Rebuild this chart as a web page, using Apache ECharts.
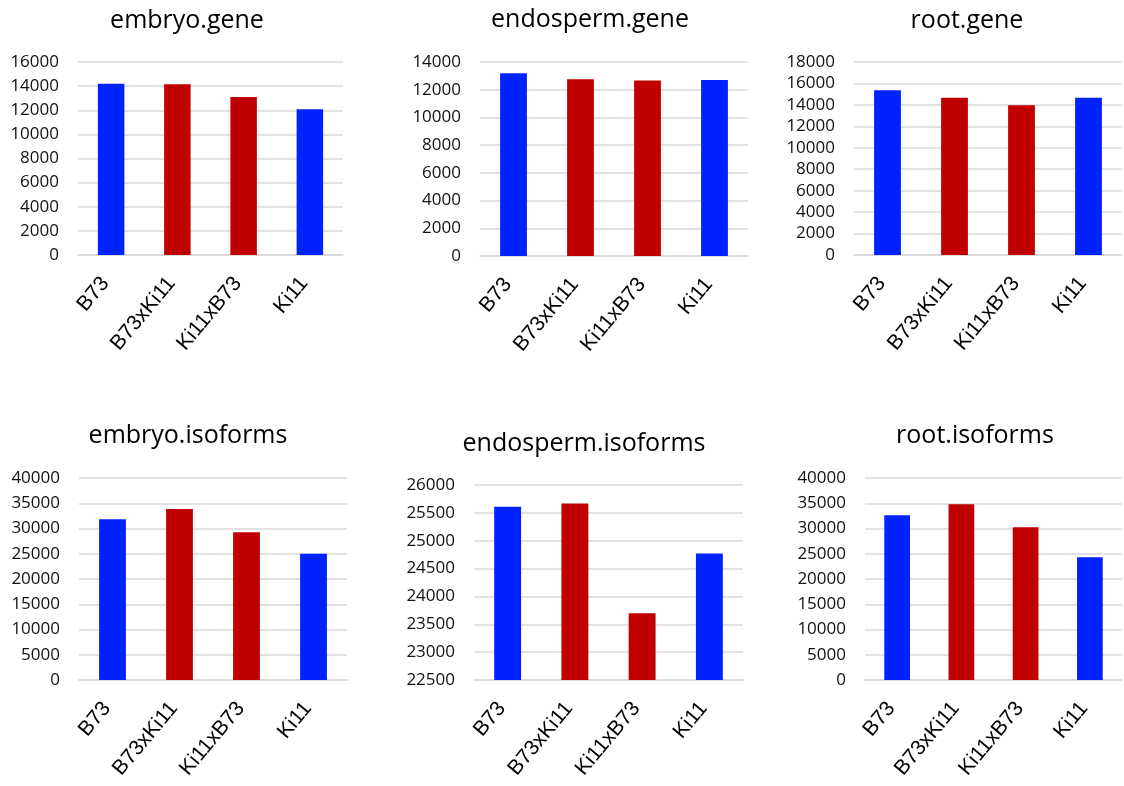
<!DOCTYPE html>
<html>
<head>
<meta charset="utf-8">
<script src="https://cdn.jsdelivr.net/npm/echarts@6/dist/echarts.min.js"></script>
<style>
  html, body { margin: 0; padding: 0; background: #fff; }
  #chart { width: 1124px; height: 786px; }
</style>
</head>
<body>
<div id="chart"></div>
<script>
// Number of expressed genes / isoforms per genotype and tissue
const categories = ['B73', 'B73xKi11', 'Ki11xB73', 'Ki11'];
const barColors = ['#0022ff', '#c00000', '#c00000', '#0022ff'];

const embryoGene = [14200, 14150, 13100, 12080];
const endospermGene = [13190, 12750, 12660, 12700];
const rootGene = [15360, 14670, 13960, 14670];
const embryoIsoforms = [31820, 33860, 29240, 25010];
const endospermIsoforms = [25610, 25670, 23700, 24770];
const rootIsoforms = [32610, 34790, 30240, 24300];

const panelTitles = ['embryo.gene', 'endosperm.gene', 'root.gene',
                     'embryo.isoforms', 'endosperm.isoforms', 'root.isoforms'];
const panelValues = [embryoGene, endospermGene, rootGene,
                     embryoIsoforms, endospermIsoforms, rootIsoforms];
// y-axis ranges: [min, max, interval]
const yRanges = [
  [0, 16000, 2000], [0, 14000, 2000], [0, 18000, 2000],
  [0, 40000, 5000], [22500, 26000, 500], [0, 40000, 5000]
];

// panel layout in pixels
const grids = [
  { left: 78,  top: 62,  width: 265, height: 193 },
  { left: 480, top: 62,  width: 268, height: 194 },
  { left: 854, top: 62,  width: 268, height: 193 },
  { left: 79,  top: 478, width: 268, height: 202 },
  { left: 474, top: 485, width: 269, height: 195 },
  { left: 865, top: 478, width: 257, height: 202 }
];
const titlePos = [[182, 20], [585, 19], [962, 20], [183, 435], [579, 443], [970, 435]];

const gridColor = '#d9d9d9';

const option = {
  backgroundColor: '#fff',
  animation: false,
  title: panelTitles.map((t, i) => ({
    text: t,
    left: titlePos[i][0],
    top: titlePos[i][1] - 17,
    textAlign: 'center',
    textStyle: { fontFamily: 'Open Sans', fontSize: 25, fontWeight: 'normal', color: '#000' }
  })),
  grid: grids.map(g => Object.assign({ containLabel: false }, g)),
  xAxis: grids.map((g, i) => ({
    type: 'category',
    gridIndex: i,
    data: categories,
    axisLine: { show: true, lineStyle: { color: gridColor, width: 1.5 } },
    axisTick: { show: false },
    axisLabel: {
      interval: 0,
      rotate: 50,
      margin: 18,
      padding: [0, 9, 0, 0],
      fontFamily: 'Liberation Sans',
      fontSize: 21,
      color: '#000'
    }
  })),
  yAxis: yRanges.map((r, i) => ({
    type: 'value',
    gridIndex: i,
    min: r[0],
    max: r[1],
    interval: r[2],
    axisLine: { show: false },
    axisTick: { show: false },
    splitLine: { show: true, lineStyle: { color: gridColor, width: 1.5 } },
    axisLabel: {
      margin: 19,
      fontFamily: 'Open Sans',
      fontSize: 17,
      color: '#111',
      formatter: v => String(v)
    }
  })),
  series: panelValues.map((vals, i) => ({
    type: 'bar',
    xAxisIndex: i,
    yAxisIndex: i,
    barWidth: '40%',
    data: vals.map((v, j) => ({ value: v, itemStyle: { color: barColors[j] } }))
  }))
};

const chart = echarts.init(document.getElementById('chart'), null, { renderer: 'canvas' });
chart.setOption(option);
</script>
</body>
</html>
